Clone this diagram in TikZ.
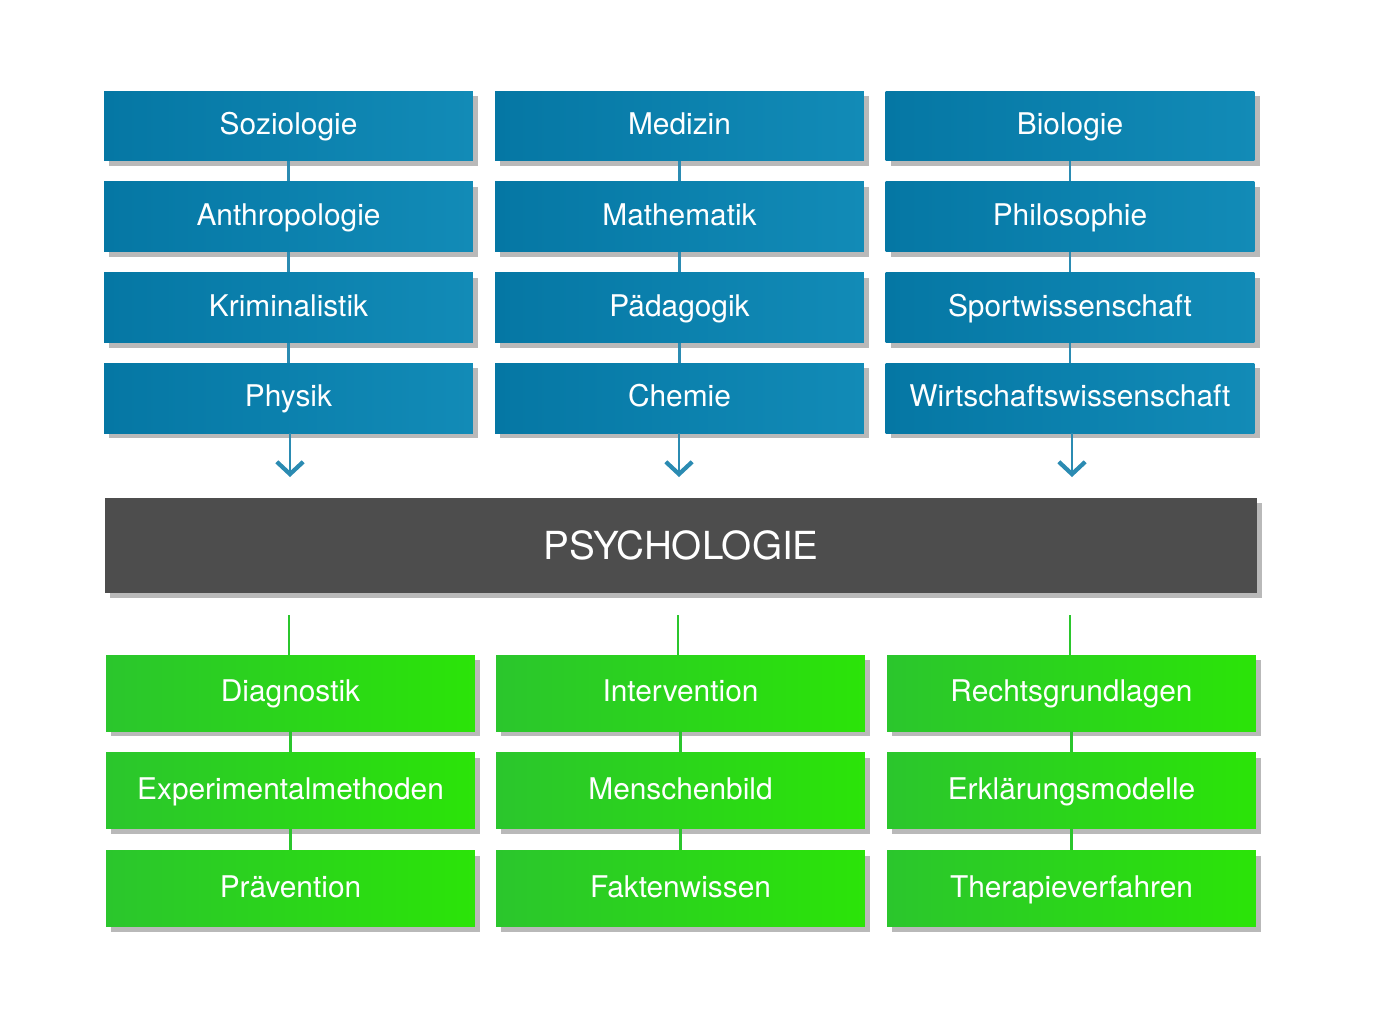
\documentclass[tikz,border=0pt]{standalone}
\usepackage{fontspec}
\setmainfont{TeX Gyre Heros}
\usetikzlibrary{arrows.meta,
		positioning,
		shadows}

\definecolor{blauL}{HTML}{0577A4}
\definecolor{blauR}{HTML}{128BB7}
\definecolor{gruenL}{HTML}{2BC62D}
\definecolor{gruenR}{HTML}{2BE408}
\definecolor{dunkel}{HTML}{4D4D4D}

\tikzset{
  schatten/.style={drop shadow={opacity=.55, shadow xshift=3pt, shadow yshift=-3pt}},
  kasten/.style={minimum width=7.38cm, text=white, inner sep=0pt,
    font=\fontsize{17}{20}\selectfont, text height=1.2em, text depth=0.2em,
    schatten},
  nachbar/.style={kasten, minimum height=1.4cm, left color=blauL, right color=blauR},
  anwendung/.style={kasten, minimum height=1.52cm, left color=gruenL, right color=gruenR},
  blaulinie/.style={draw=blauL!85!white, line width=1.6pt},
  gruenlinie/.style={draw=gruenL, line width=1.4pt},
  pfeil/.style={blaulinie, -{Straight Barb[length=7pt, width=15pt, line width=2.4pt]}}
}

\begin{document}
\begin{tikzpicture}[x=0.02cm, y=-0.02cm]

\useasboundingbox (0,0) rectangle (1380,1032);

% Nachbarwissenschaften
\node [nachbar] (soz) at (288.5,126) {Soziologie};
\node [nachbar, below=0.4cm of soz] (anth) {Anthropologie};
\node [nachbar, below=0.4cm of anth] (krim) {Kriminalistik};
\node [nachbar, below=0.4cm of krim] (phys) {Physik};

\node [nachbar] (med) at (679.5,126) {Medizin};
\node [nachbar, below=0.4cm of med] (math) {Mathematik};
\node [nachbar, below=0.4cm of math] (paed) {Pädagogik};
\node [nachbar, below=0.4cm of paed] (chem) {Chemie};

\node [nachbar] (bio) at (1070,126) {Biologie};
\node [nachbar, below=0.4cm of bio] (phil) {Philosophie};
\node [nachbar, below=0.4cm of phil] (sport) {Sportwissenschaft};
\node [nachbar, below=0.4cm of sport] (wirt) {Wirtschaftswissenschaft};

% Psychologie
\node [minimum width=23.04cm, minimum height=1.9cm, fill=dunkel, text=white,
  font=\fontsize{22}{26}\selectfont, schatten]
  (psy) at (681,545.5) {PSYCHOLOGIE};

% Anwendungsfelder
\node [anwendung] (diag) at (290.5,693) {Diagnostik};
\node [anwendung, below=0.42cm of diag] (exp) {Experimentalmethoden};
\node [anwendung, below=0.42cm of exp] (praev) {Prävention};

\node [anwendung] (int) at (680.5,693) {Intervention};
\node [anwendung, below=0.42cm of int] (mensch) {Menschenbild};
\node [anwendung, below=0.42cm of mensch] (fakt) {Faktenwissen};

\node [anwendung] (recht) at (1071.5,693) {Rechtsgrundlagen};
\node [anwendung, below=0.42cm of recht] (erkl) {Erklärungsmodelle};
\node [anwendung, below=0.42cm of erkl] (ther) {Therapieverfahren};

% Verbindungen
\draw [blaulinie] (soz) -- (anth);
\draw [blaulinie] (anth) -- (krim);
\draw [blaulinie] (krim) -- (phys);
\draw [blaulinie] (med) -- (math);
\draw [blaulinie] (math) -- (paed);
\draw [blaulinie] (paed) -- (chem);
\draw [blaulinie] (bio) -- (phil);
\draw [blaulinie] (phil) -- (sport);
\draw [blaulinie] (sport) -- (wirt);

\coordinate (pfeilA) at (290,477);
\coordinate (pfeilB) at (679,477);
\coordinate (pfeilC) at (1072,477);
\draw [pfeil] (phys.south -| pfeilA) -- (pfeilA);
\draw [pfeil] (chem.south -| pfeilB) -- (pfeilB);
\draw [pfeil] (wirt.south -| pfeilC) -- (pfeilC);

\coordinate (startA) at (289,615);
\coordinate (startB) at (678,615);
\coordinate (startC) at (1070,615);
\draw [gruenlinie] (startA) -- (diag.north -| startA);
\draw [gruenlinie] (startB) -- (int.north -| startB);
\draw [gruenlinie] (startC) -- (recht.north -| startC);

\draw [gruenlinie] (diag) -- (exp);
\draw [gruenlinie] (exp) -- (praev);
\draw [gruenlinie] (int) -- (mensch);
\draw [gruenlinie] (mensch) -- (fakt);
\draw [gruenlinie] (recht) -- (erkl);
\draw [gruenlinie] (erkl) -- (ther);

\end{tikzpicture}
\end{document}
